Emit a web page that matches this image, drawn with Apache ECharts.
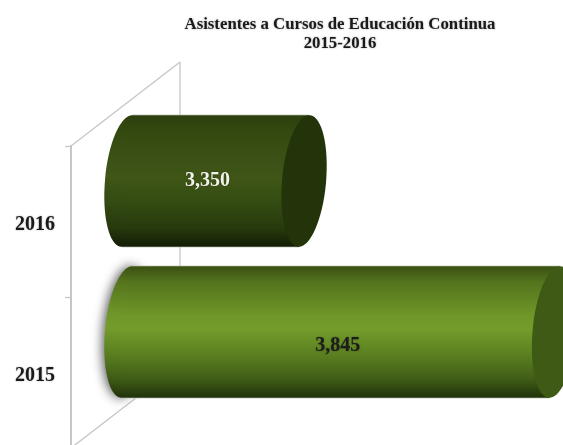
<!DOCTYPE html>
<html><head><meta charset="utf-8">
<style>html,body{margin:0;padding:0;background:#fff}#c{width:563px;height:445px}</style>
<script src="https://cdn.jsdelivr.net/npm/echarts@6/dist/echarts.min.js"></script>
</head><body><div id="c"></div>
<script>
const titleText = 'Asistentes a Cursos de Educación Continua\n2015-2016';
const categories = ['2015', '2016'];
const attendees = [3845, 3350];

const FONT = '"Liberation Serif", "DejaVu Serif", serif';
const DEPTH_X = 109, DEPTH_Y = -84;     // oblique depth of the 3-D floor/wall
const BAR_X = 56, BAR_Y = -40.5;        // cylinders sit mid-way through that depth
const RX = 22, TILT = 0.09, SKEW = 5;
const looks = [
  { stops: ['#3a4f12','#54741d','#6f9729','#739c2b','#5a7e20','#3f5c16','#20300b'], cap: '#3f5a15', label: '#1c1c1c', labelDy: 14, labelDx: -3, halo: true },
  { stops: ['#2c3f0f','#34490f','#3c5216','#3f5617','#334a12','#27390d','#121c05'], cap: '#23340b', label: '#f2f2ea', labelDy: 0, labelDx: -8, halo: false }
];
const grad = s => ({ type:'linear', x:0, y:0, x2:0, y2:1, colorStops:
  [0,.12,.38,.48,.68,.86,1].map((o,i)=>({offset:o,color:s[i]})) });

function renderCylinder(params, api) {
  const i = api.value(1), v = api.value(0);
  const p = api.coord([v, i]);
  const x0 = params.coordSys.x + BAR_X, x1 = p[0] + BAR_X, cy = p[1] + BAR_Y;
  const ry = api.size([0, 1])[1] * 0.875 / 2;
  const L = looks[i], g = grad(L.stops);
  const edge = 'rgba(190,195,180,.7)';
  const top = cy - ry, bot = cy + ry;
  return { type:'group', children:[
    { type:'ellipse', shape:{cx:x0,cy,rx:RX,ry}, rotation:-TILT, originX:x0, originY:cy,
      style:{ fill:g, shadowBlur:L.halo?11:0, shadowOffsetX:L.halo?-2:0, shadowOffsetY:0, shadowColor:'rgba(80,80,80,.95)' } },
    { type:'polygon', shape:{points:[[x0+SKEW,top],[x1+SKEW,top],[x1-SKEW,bot],[x0-SKEW,bot]]}, style:{fill:g} },
    { type:'line', shape:{x1:x0+SKEW,y1:top,x2:x1+SKEW,y2:top}, style:{stroke:edge,lineWidth:1} },
    { type:'line', shape:{x1:x0-SKEW,y1:bot,x2:x1-SKEW,y2:bot}, style:{stroke:edge,lineWidth:1} },
    { type:'ellipse', shape:{cx:x1,cy,rx:RX,ry}, rotation:-TILT, originX:x1, originY:cy, style:{fill:L.cap} },
    { type:'text', style:{ text:v.toLocaleString('en-US'), x:(x0+x1)/2+L.labelDx, y:cy+L.labelDy,
        align:'center', verticalAlign:'middle', fill:L.label,
        font:'bold 20px '+FONT, textShadowColor:'rgba(0,0,0,.35)', textShadowBlur:2 } }
  ]};
}
function renderWall(params, api) {
  const c = params.coordSys;
  const fx = c.x, ft = c.y, fb = c.y + c.height;
  const st = { stroke:'#c6c6c6', lineWidth:1.3 };
  return { type:'group', children:[
    { type:'line', shape:{x1:fx,y1:ft,x2:fx+DEPTH_X,y2:ft+DEPTH_Y}, style:st },
    { type:'line', shape:{x1:fx,y1:fb,x2:fx+DEPTH_X,y2:fb+DEPTH_Y}, style:st },
    { type:'line', shape:{x1:fx+DEPTH_X,y1:ft+DEPTH_Y,x2:fx+DEPTH_X,y2:fb+DEPTH_Y}, style:st }
  ]};
}
const chart = echarts.init(document.getElementById('c'), null, {renderer:'canvas'});
chart.setOption({
  animation:false, backgroundColor:'#fff',
  title:{ text:titleText, left:335, top:10, textAlign:'center',
    textStyle:{ fontFamily:FONT, fontSize:16.8, fontWeight:'bold', color:'#1a1a1a', lineHeight:19,
      textShadowColor:'rgba(0,0,0,.35)', textShadowBlur:2 } },
  grid:{ left:71, top:146, width:506, height:302, outerBoundsMode:'none' },
  xAxis:{ type:'value', min:3000, max:4000, show:false },
  yAxis:{ type:'category', data:categories,
    axisLine:{ show:true, lineStyle:{ color:'#c6c6c6', width:2 } },
    axisTick:{ show:true, length:6, lineStyle:{ color:'#c6c6c6', width:1.3 } },
    axisLabel:{ margin:16, fontFamily:FONT, fontSize:20, fontWeight:'bold', color:'#1a1a1a',
      verticalAlign:'top', lineHeight:6, textShadowColor:'rgba(0,0,0,.3)', textShadowBlur:2 } },
  series:[
    { type:'custom', z:1, clip:false, renderItem:renderWall, data:[[3000,0]], encode:{x:0,y:1}, silent:true },
    { type:'custom', z:2, clip:false, renderItem:renderCylinder, encode:{x:0,y:1},
      data:attendees.map((v,i)=>[v,i]) }
  ]
});
</script></body></html>
